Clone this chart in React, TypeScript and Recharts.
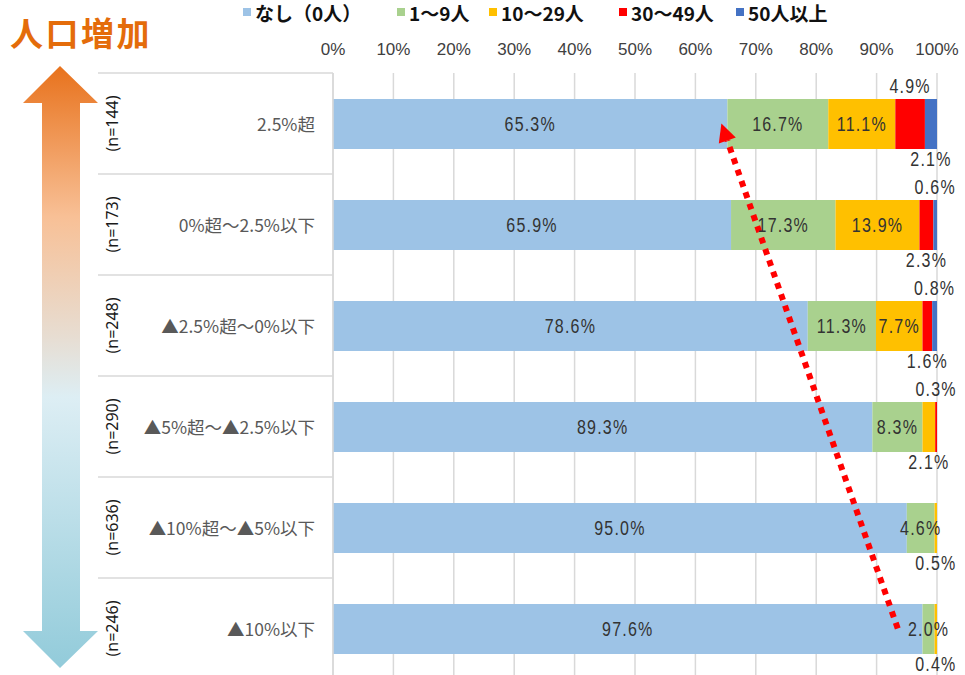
import React from 'react';
import {
  BarChart, Bar, XAxis, YAxis, CartesianGrid, LabelList, ReferenceLine
} from 'recharts';

const categories = [
  '2.5%超',
  '0%超～2.5%以下',
  '▲2.5%超～0%以下',
  '▲5%超～▲2.5%以下',
  '▲10%超～▲5%以下',
  '▲10%以下',
];
const sampleSizes = [144, 173, 248, 290, 636, 246];

const seriesNames = ['なし（0人）', '1～9人', '10～29人', '30～49人', '50人以上'];
const none = [65.3, 65.9, 78.6, 89.3, 95.0, 97.6];
const small = [16.7, 17.3, 11.3, 8.3, 4.6, 2.0];
const mid = [11.1, 13.9, 7.7, 2.1, 0.5, 0.4];
const large = [4.9, 2.3, 1.6, 0.3, 0, 0];
const huge = [2.1, 0.6, 0.8, 0, 0, 0];

const xTicks = [0, 10, 20, 30, 40, 50, 60, 70, 80, 90, 100];

const KEYS = ['none', 'small', 'mid', 'large', 'huge'];
const COLORS = ['#9DC3E6', '#A9D18E', '#FFC000', '#FF0000', '#4472C4'];

const data = categories.map((name, i) => ({
  name,
  n: sampleSizes[i],
  none: none[i],
  small: small[i],
  mid: mid[i],
  large: large[i],
  huge: huge[i],
}));

// labels of thin segments sit outside the bar
const OUTSIDE: Record<string, Record<number, 'above' | 'below'>> = {
  mid: { 3: 'below', 4: 'below', 5: 'below' },
  large: { 0: 'above', 1: 'below', 2: 'below', 3: 'above' },
  huge: { 0: 'below', 1: 'above', 2: 'above' },
};

const W = 965;
const H = 679;
const MARGIN = { top: 43, right: 28, bottom: 0, left: 0 };
const BAND = (H - MARGIN.top - 30 - MARGIN.bottom) / categories.length;
const LEGEND_X = [243, 397, 489, 619, 736];

const NUM_FONT = "'Liberation Sans', Arial, sans-serif";
const JP_FONT = "'Noto Sans CJK JP', 'Noto Sans', sans-serif";

const makeLabel = (key: string) => (props: any) => {
  const { x, y, width, height, value, index } = props;
  if (!value) return null;
  const place = OUTSIDE[key]?.[index];
  let ty = y + height / 2;
  if (place === 'above') ty = y - 13;
  if (place === 'below') ty = y + height + 10;
  return (
    <text
      x={0}
      y={0}
      transform={`translate(${x + width / 2}, ${ty}) scale(0.8, 1)`}
      textAnchor="middle"
      dominantBaseline="central"
      fontFamily={NUM_FONT}
      fontSize={20}
      letterSpacing={1.5}
      fill="#333333"
    >
      {Number(value).toFixed(1) + '%'}
    </text>
  );
};

const CategoryTick = (props: any) => {
  const { y, payload } = props;
  const i = categories.indexOf(payload.value);
  return (
    <g>
      <line x1={98} x2={333} y1={y - BAND / 2} y2={y - BAND / 2} stroke="#d9d9d9" strokeWidth={1.5} />
      <text x={315} y={y} textAnchor="end" dominantBaseline="central" fontFamily={JP_FONT} fontSize={17.5} fill="#595959">
        {payload.value}
      </text>
      <text
        x={0}
        y={0}
        transform={`translate(112, ${y}) rotate(-90)`}
        textAnchor="middle"
        dominantBaseline="central"
        fontFamily="'Noto Sans', sans-serif"
        fontSize={16}
        fill="#1a1a1a"
      >
        {`(n=${sampleSizes[i]})`}
      </text>
    </g>
  );
};

const DottedArrow = (props: any) => {
  const { x1, y1, x2, y2 } = props;
  const ang = Math.atan2(y2 - y1, x2 - x1);
  const len = 18;
  const half = 9;
  const bx = x2 - len * Math.cos(ang);
  const by = y2 - len * Math.sin(ang);
  const px = -Math.sin(ang) * half;
  const py = Math.cos(ang) * half;
  return (
    <g>
      <line x1={x1} y1={y1} x2={bx} y2={by} stroke="#FF0000" strokeWidth={6} strokeDasharray="6 6" />
      <polygon points={`${x2},${y2} ${bx + px},${by + py} ${bx - px},${by - py}`} fill="#FF0000" />
    </g>
  );
};

const Overlay = () => (
  <svg width={W} height={675} style={{ position: 'absolute', left: 0, top: 0, pointerEvents: 'none' }}>
    <defs>
      <linearGradient id="popArrow" x1="0" y1="0" x2="0" y2="1">
        <stop offset="0" stopColor="#E8721C" />
        <stop offset="0.25" stopColor="#F8C096" />
        <stop offset="0.45" stopColor="#E7DDD2" />
        <stop offset="0.55" stopColor="#DDEEF4" />
        <stop offset="1" stopColor="#92CBDA" />
      </linearGradient>
    </defs>
    <polygon
      points="60,66 98,103 80,103 80,631 98,631 60,668 23,631 42,631 42,103 23,103"
      fill="url(#popArrow)"
    />
    <text x={10} y={46} fontFamily={JP_FONT} fontWeight="bold" fontSize={33} letterSpacing={2.5} fill="#E46C0A">
      人口増加
    </text>
  </svg>
);

const LegendBar = () => (
  <div style={{ position: 'absolute', left: 0, top: 0, width: W, height: 24 }}>
    {seriesNames.map((s, i) => (
      <div key={s} style={{ position: 'absolute', left: LEGEND_X[i], top: 0, height: 24, display: 'flex', alignItems: 'center' }}>
        <span style={{ width: 8, height: 8, background: COLORS[i], display: 'inline-block', marginRight: 4 }} />
        <span style={{ fontFamily: JP_FONT, fontWeight: 'bold', fontSize: 19, color: '#111', whiteSpace: 'nowrap' }}>
          {s}
        </span>
      </div>
    ))}
  </div>
);

export default function App() {
  return (
    <div style={{ position: 'absolute', left: 0, top: 0, width: W, height: 675, overflow: 'hidden', background: '#fff' }}>
      <BarChart width={W} height={H} data={data} layout="vertical" margin={MARGIN} barCategoryGap={0}>
        <CartesianGrid horizontal={false} stroke="#d9d9d9" strokeWidth={1.5} />
        <XAxis
          type="number"
          orientation="top"
          domain={[0, 100]}
          ticks={xTicks}
          allowDataOverflow
          height={30}
          axisLine={false}
          tickLine={false}
          tickSize={0}
          tickMargin={18}
          tickFormatter={(v) => `${v}%`}
          tick={{ fontFamily: NUM_FONT, fontSize: 17, fill: '#404040' }}
          interval={0}
        />
        <YAxis
          type="category"
          dataKey="name"
          width={333}
          axisLine={{ stroke: '#d9d9d9', strokeWidth: 1.5 }}
          tickLine={false}
          tick={<CategoryTick />}
          interval={0}
        />
        {KEYS.map((k, i) => (
          <Bar key={k} dataKey={k} name={seriesNames[i]} stackId="a" fill={COLORS[i]} barSize={50} isAnimationActive={false}>
            <LabelList dataKey={k} content={makeLabel(k)} />
          </Bar>
        ))}
        <ReferenceLine
          segment={[{ x: 93.5, y: categories[5] }, { x: 64.3, y: categories[0] }]}
          shape={<DottedArrow />}
          ifOverflow="visible"
        />
      </BarChart>
      <Overlay />
      <LegendBar />
    </div>
  );
}
